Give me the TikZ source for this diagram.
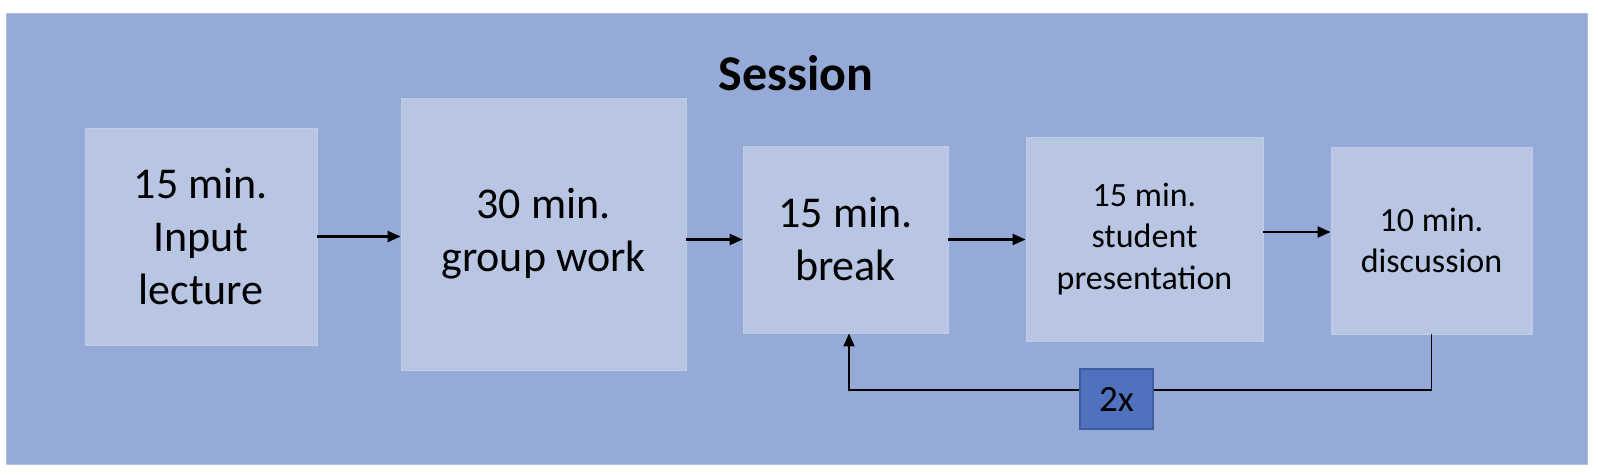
\documentclass[tikz,border=0pt]{standalone}
\usepackage{fontspec}
\setmainfont{Carlito}
\usetikzlibrary{arrows.meta}
\definecolor{bgblue}{RGB}{150,170,216}
\definecolor{bgedge}{RGB}{175,192,228}
\definecolor{boxfill}{RGB}{184,198,228}
\definecolor{boxedge}{RGB}{192,205,233}
\definecolor{repfill}{RGB}{80,113,190}
\definecolor{repedge}{RGB}{62,93,160}
\tikzset{
  stagebox/.style={fill=boxfill, draw=boxedge, line width=0.8pt, align=center, inner sep=0pt, text=black},
  bigtext/.style={font=\fontsize{44}{53}\selectfont},
  smalltext/.style={font=\fontsize{34}{41.5}\selectfont},
  flowarrow/.style={line width=2.2pt, -{Triangle[length=13pt,width=11pt]}},
  looparrow/.style={line width=1.8pt, -{Triangle[length=13pt,width=11pt]}},
  repbox/.style={fill=repfill, draw=repedge, line width=1.2pt, inner sep=0pt, font=\fontsize{37}{44}\selectfont},
}
\begin{document}
\begin{tikzpicture}[x=1pt,y=-1pt]
\useasboundingbox (0,0) rectangle (1598,474);
\fill[white] (0,0) rectangle (1598,474);
\draw[fill=bgblue, draw=bgedge, line width=1pt] (6,13) rectangle (1587,464);
\node[font=\fontsize{50}{60}\selectfont\bfseries, anchor=base] (title) at (796,90) {Session};
\node[stagebox, bigtext, minimum width=232pt, minimum height=217pt] (b1) at (201,236.5) {15 min.\\Input\\lecture};
\node[stagebox, bigtext, minimum width=285pt, minimum height=272pt] (b2) at (543.5,234) {30 min.\\group work};
\node[stagebox, bigtext, minimum width=205pt, minimum height=187pt] (b3) at (845.5,239.5) {15 min.\\break};
\node[stagebox, smalltext, minimum width=237pt, minimum height=204pt] (b4) at (1144.5,239) {15 min.\\student\\presentation};
\node[stagebox, smalltext, minimum width=201pt, minimum height=187pt] (b5) at (1431.5,240.5) {10 min.\\discussion};
\draw[flowarrow] (b1.east) -- (b1.east -| b2.west);
\draw[flowarrow] (b2.east |- b3.west) -- (b3.west);
\draw[flowarrow] (b3.east) -- (b3.east -| b4.west);
\draw[flowarrow] ([yshift=7pt]b4.east) -- ([yshift=7pt]b4.east -| b5.west);
\coordinate (loopL) at (849,390);
\draw[looparrow] (b5.south) |- (loopL) -- (loopL |- b3.south);
\node[repbox, minimum width=73pt, minimum height=60pt] (rep) at (1116.5,399) {2x};
\end{tikzpicture}
\end{document}
